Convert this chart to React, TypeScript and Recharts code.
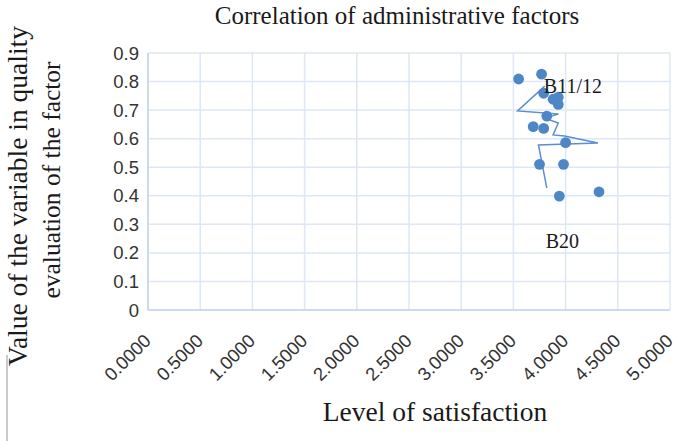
import React from 'react';
import {
  ScatterChart, Scatter, XAxis, YAxis, CartesianGrid, ReferenceDot,
} from 'recharts';

// measured points: level of satisfaction vs value in quality evaluation
const satisfaction = [3.55, 3.77, 3.79, 3.88, 3.93, 3.93, 3.82, 3.69, 3.79, 4.0, 3.75, 3.98, 3.94, 4.32];
const quality = [0.809, 0.826, 0.759, 0.738, 0.745, 0.72, 0.679, 0.642, 0.636, 0.586, 0.51, 0.51, 0.399, 0.414];

// the zigzag connecting line
const lineX = [3.8, 3.54, 3.93, 3.8, 3.93, 3.88, 3.99, 4.31, 3.74, 3.82];
const lineY = [0.784, 0.697, 0.686, 0.672, 0.655, 0.613, 0.609, 0.585, 0.578, 0.427];

const xTicks = [0, 0.5, 1, 1.5, 2, 2.5, 3, 3.5, 4, 4.5, 5];
const yTicks = [0, 0.1, 0.2, 0.3, 0.4, 0.5, 0.6, 0.7, 0.8, 0.9];

const pointLabels = [
  { name: 'B11/12', x: 4.07, y: 0.785 },
  { name: 'B20', x: 3.97, y: 0.242 },
];

const points = satisfaction.map((x, i) => ({ x, y: quality[i] }));
const linePoints = lineX.map((x, i) => ({ x, y: lineY[i] }));

const SERIF = '"Liberation Serif", "Times New Roman", serif';
const SANS = '"Liberation Sans", Arial, sans-serif';

function XTick({ x, y, payload }: any) {
  const tx = x + 4;
  const ty = y + 30;
  return (
    <text
      x={tx}
      y={ty}
      transform={`rotate(-45, ${tx}, ${ty})`}
      textAnchor="end"
      fill="#333"
      fontSize={18.5}
      fontFamily={SANS}
    >
      {Number(payload.value).toFixed(4)}
    </text>
  );
}

export default function App() {
  return (
    <div style={styles.wrap}>
      <ScatterChart width={683} height={441} margin={{ top: 53, right: 13, bottom: 0, left: 0 }}>
        <CartesianGrid stroke="#dde7f5" strokeWidth={1.5} />
        <XAxis
          type="number"
          dataKey="x"
          domain={[0, 5]}
          ticks={xTicks}
          height={131}
          stroke="#c3d4ec"
          strokeWidth={1.5}
          tickLine={false}
          tickSize={0}
          tick={<XTick />}
          interval={0}
        />
        <YAxis
          type="number"
          dataKey="y"
          domain={[0, 0.9]}
          ticks={yTicks}
          width={148}
          stroke="#c3d4ec"
          strokeWidth={1.5}
          tickLine={false}
          tickSize={6}
          tickMargin={3}
          tick={{ fill: '#333', fontSize: 18.5, fontFamily: SANS }}
          interval={0}
        />
        <Scatter
          data={linePoints}
          line={{ stroke: '#5b8fd0', strokeWidth: 1.5 }}
          shape={() => <g />}
          isAnimationActive={false}
        />
        <Scatter data={points} fill="#4f86c6" shape={(p: any) => <circle cx={p.cx} cy={p.cy} r={5.4} fill="#4f86c6" />} isAnimationActive={false} />
        {pointLabels.map((l) => (
          <ReferenceDot
            key={l.name}
            x={l.x}
            y={l.y}
            r={0}
            fill="none"
            stroke="none"
            label={{ value: l.name, position: 'center', fill: '#1a1a1a', fontSize: 20, fontFamily: SERIF }}
          />
        ))}
      </ScatterChart>
      <svg width={683} height={441} style={styles.overlay}>
        <text x={397} y={24} textAnchor="middle" fontSize={25} fontFamily={SERIF} fill="#1a1a1a">
          Correlation of administrative factors
        </text>
        <text x={435} y={421} textAnchor="middle" fontSize={27.5} fontFamily={SERIF} fill="#1a1a1a">
          Level of satisfaction
        </text>
        <text x={27} y={196} transform="rotate(-90, 27, 196)" textAnchor="middle" fontSize={27.5} fontFamily={SERIF} fill="#1a1a1a">
          Value of the variable in quality
        </text>
        <text x={60} y={180} transform="rotate(-90, 60, 180)" textAnchor="middle" fontSize={25.5} fontFamily={SERIF} fill="#1a1a1a">
          evaluation of the factor
        </text>
        <rect x={6} y={355} width={2} height={86} fill="#c8ccd2" />
      </svg>
    </div>
  );
}

const styles: Record<string, React.CSSProperties> = {
  wrap: {
    position: 'absolute',
    left: 0,
    top: 0,
    width: 683,
    height: 441,
    background: '#fff',
  },
  overlay: {
    position: 'absolute',
    left: 0,
    top: 0,
    pointerEvents: 'none',
  },
};
